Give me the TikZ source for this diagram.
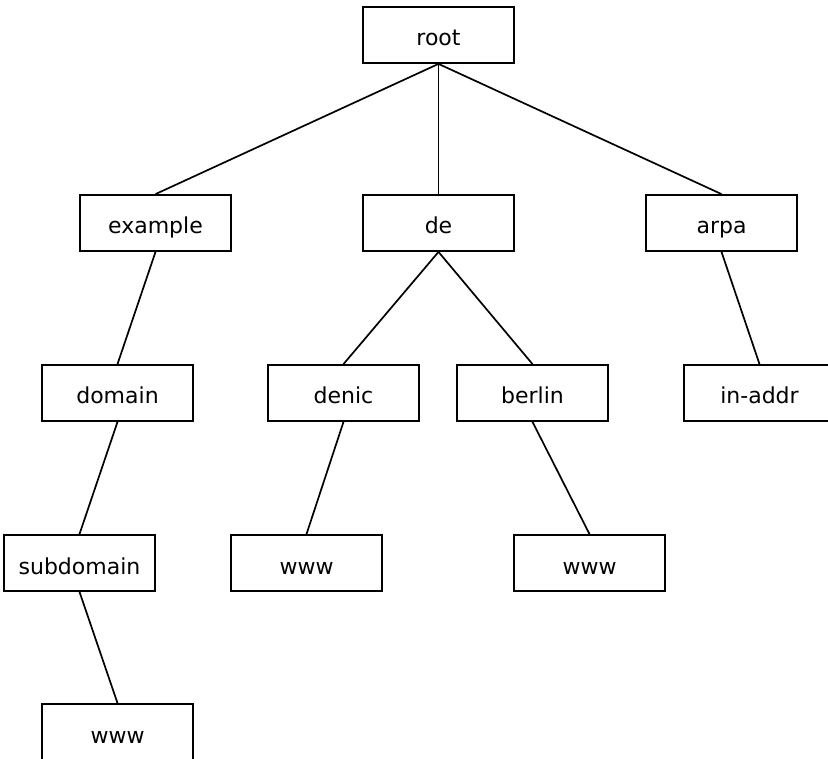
\documentclass[tikz,border=0pt]{standalone}
\usepackage{fontspec}
\setmainfont{DejaVu Sans}
\begin{document}
\begin{tikzpicture}[x=1pt,y=-1pt,
  box/.style={draw=black,line width=1.8pt,fill=white,minimum width=151pt,minimum height=56pt,inner sep=0pt,text height=22pt,text depth=0pt,font=\fontsize{22}{26}\selectfont},
  edge/.style={line width=1.7pt}]
\useasboundingbox (0,0) rectangle (828,759);
\clip (0,0) rectangle (828,759);
\node[box] (root) at (438.5,35) {root};
\node[box] (example) at (155.5,223) {example};
\node[box] (de) at (438.5,223) {de};
\node[box] (arpa) at (721.5,223) {arpa};
\node[box] (domain) at (117.5,393) {domain};
\node[box] (denic) at (343.5,393) {denic};
\node[box] (berlin) at (532.5,393) {berlin};
\node[box] (inaddr) at (759.5,393) {in-addr};
\node[box] (subdomain) at (79.5,563) {subdomain};
\node[box] (wwwa) at (306.5,563) {www};
\node[box] (wwwb) at (589.5,563) {www};
\node[box] (wwwc) at (117.5,732) {www};
\draw[edge] (root.south) -- (example.north);
\draw[edge] (root.south) -- (de.north);
\draw[edge] (root.south) -- (arpa.north);
\draw[edge] (example.south) -- (domain.north);
\draw[edge] (de.south) -- (denic.north);
\draw[edge] (de.south) -- (berlin.north);
\draw[edge] (arpa.south) -- (inaddr.north);
\draw[edge] (domain.south) -- (subdomain.north);
\draw[edge] (denic.south) -- (wwwa.north);
\draw[edge] (berlin.south) -- (wwwb.north);
\draw[edge] (subdomain.south) -- (wwwc.north);
\end{tikzpicture}
\end{document}
